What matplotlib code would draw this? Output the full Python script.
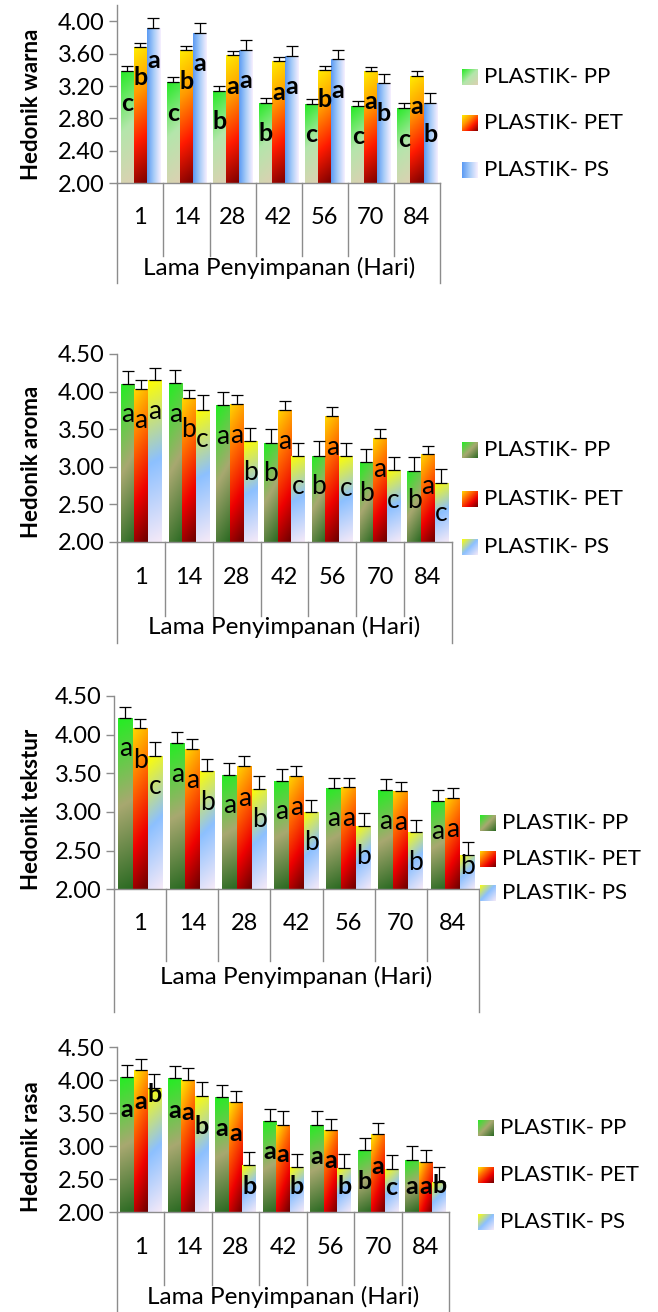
import numpy as np
import matplotlib.pyplot as plt
from matplotlib.colors import LinearSegmentedColormap

plt.rcParams['font.family'] = ['Lato', 'DejaVu Sans']

days = ['1', '14', '28', '42', '56', '70', '84']
series = ['PLASTIK- PP', 'PLASTIK- PET', 'PLASTIK- PS']

# Hedonik warna
warna_pp = [3.39, 3.25, 3.14, 2.99, 2.98, 2.95, 2.93]
warna_pet = [3.68, 3.65, 3.58, 3.51, 3.40, 3.39, 3.33]
warna_ps = [3.92, 3.86, 3.65, 3.57, 3.53, 3.24, 2.99]
warna_err_pp = [0.06, 0.06, 0.06, 0.06, 0.06, 0.06, 0.06]
warna_err_pet = [0.05, 0.05, 0.05, 0.05, 0.05, 0.05, 0.05]
warna_err_ps = [0.12, 0.12, 0.12, 0.12, 0.12, 0.11, 0.12]
warna_let_pp = ['c', 'c', 'b', 'b', 'c', 'c', 'c']
warna_let_pet = ['b', 'b', 'a', 'a', 'b', 'a', 'a']
warna_let_ps = ['a', 'a', 'a', 'a', 'a', 'b', 'b']
warna_lety_pp = [2.99, 2.86, 2.76, 2.61, 2.60, 2.58, 2.54]
warna_lety_pet = [3.30, 3.25, 3.19, 3.12, 3.03, 3.01, 2.95]
warna_lety_ps = [3.52, 3.48, 3.27, 3.19, 3.14, 2.86, 2.60]

# Hedonik aroma
aroma_pp = [4.10, 4.11, 3.82, 3.32, 3.15, 3.06, 2.94]
aroma_pet = [4.03, 3.91, 3.84, 3.76, 3.68, 3.38, 3.17]
aroma_ps = [4.15, 3.76, 3.34, 3.15, 3.14, 2.96, 2.79]
aroma_err_pp = [0.18, 0.18, 0.18, 0.18, 0.19, 0.18, 0.19]
aroma_err_pet = [0.12, 0.11, 0.11, 0.11, 0.11, 0.12, 0.11]
aroma_err_ps = [0.17, 0.19, 0.18, 0.17, 0.17, 0.17, 0.18]
aroma_let_pp = ['a', 'a', 'a', 'b', 'b', 'b', 'b']
aroma_let_pet = ['a', 'b', 'a', 'a', 'a', 'a', 'a']
aroma_let_ps = ['a', 'c', 'b', 'c', 'c', 'c', 'c']
aroma_lety_pp = [3.69, 3.69, 3.40, 2.91, 2.74, 2.65, 2.55]
aroma_lety_pet = [3.62, 3.50, 3.42, 3.33, 3.26, 2.97, 2.74]
aroma_lety_ps = [3.73, 3.36, 2.93, 2.74, 2.71, 2.55, 2.38]

# Hedonik tekstur
tekstur_pp = [4.21, 3.89, 3.48, 3.40, 3.31, 3.28, 3.14]
tekstur_pet = [4.08, 3.82, 3.60, 3.47, 3.32, 3.27, 3.18]
tekstur_ps = [3.72, 3.53, 3.30, 3.00, 2.82, 2.74, 2.44]
tekstur_err_pp = [0.15, 0.15, 0.15, 0.15, 0.13, 0.15, 0.14]
tekstur_err_pet = [0.12, 0.12, 0.12, 0.12, 0.12, 0.12, 0.13]
tekstur_err_ps = [0.18, 0.16, 0.16, 0.16, 0.17, 0.16, 0.17]
tekstur_let_pp = ['a', 'a', 'a', 'a', 'a', 'a', 'a']
tekstur_let_pet = ['b', 'a', 'a', 'a', 'a', 'a', 'a']
tekstur_let_ps = ['c', 'b', 'b', 'b', 'b', 'b', 'b']
tekstur_lety_pp = [3.82, 3.49, 3.09, 3.01, 2.91, 2.88, 2.75]
tekstur_lety_pet = [3.67, 3.41, 3.18, 3.06, 2.92, 2.87, 2.77]
tekstur_lety_ps = [3.33, 3.12, 2.90, 2.60, 2.43, 2.35, 2.30]

# Hedonik rasa
rasa_pp = [4.05, 4.03, 3.74, 3.38, 3.33, 2.94, 2.80]
rasa_pet = [4.15, 4.00, 3.67, 3.33, 3.25, 3.18, 2.76]
rasa_ps = [3.88, 3.76, 2.71, 2.68, 2.67, 2.66, 2.46]
rasa_err_pp = [0.18, 0.19, 0.19, 0.19, 0.20, 0.18, 0.20]
rasa_err_pet = [0.18, 0.18, 0.17, 0.20, 0.17, 0.18, 0.19]
rasa_err_ps = [0.22, 0.21, 0.21, 0.20, 0.21, 0.21, 0.23]
rasa_let_pp = ['a', 'a', 'a', 'a', 'a', 'b', 'a']
rasa_let_pet = ['a', 'a', 'a', 'a', 'a', 'a', 'a']
rasa_let_ps = ['b', 'b', 'b', 'b', 'b', 'c', 'b']
rasa_lety_pp = [3.56, 3.55, 3.27, 2.92, 2.85, 2.46, 2.39]
rasa_lety_pet = [3.68, 3.51, 3.20, 2.88, 2.78, 2.70, 2.39]
rasa_lety_ps = [3.79, 3.30, 2.39, 2.39, 2.39, 2.38, 2.40]

W, H = 658, 1312


def grad_cmap(colors):
    return LinearSegmentedColormap.from_list('g', colors)


def gradient(w_px, h_px, angle, n=120):
    # linear gradient across a w x h pixel box, angle 0 = left->right, 90 = top->bottom
    a = np.deg2rad(angle)
    u = np.linspace(0, 1, n)[None, :] * w_px
    v = np.linspace(0, 1, n)[:, None] * h_px
    t = (u * np.cos(a) + v * np.sin(a))
    return t / t.max()


def fill_gradient(ax, patch, cmap, angle, px_per_x, px_per_y):
    x0, y0 = patch.get_x(), patch.get_y()
    w, h = patch.get_width(), patch.get_height()
    g = gradient(w * px_per_x, h * px_per_y, angle)
    im = ax.imshow(g, cmap=cmap, extent=(x0, x0 + w, y0, y0 + h), origin='upper',
                   aspect='auto', interpolation='bilinear', vmin=0, vmax=1, zorder=2)
    im.set_clip_path(patch)


panels = [
    dict(label='Hedonik warna', vals=(warna_pp, warna_pet, warna_ps),
         errs=(warna_err_pp, warna_err_pet, warna_err_ps),
         lets=(warna_let_pp, warna_let_pet, warna_let_ps),
         lety=(warna_lety_pp, warna_lety_pet, warna_lety_ps),
         box=(117.3, 5, 440, 183.3), ymax=4.2, yticks=np.arange(2.0, 4.01, 0.4),
         bold=True, letsize=18,
         fills=[(['#22ea22', '#b4e6ab', '#ddd0b2'], 45),
                (['#ffee00', '#ff9a00', '#ff1a00', '#7a0000'], 45),
                (['#5a9af4', '#a9cdf8', '#f8f0ff'], 0)],
         leg_x=462, leg_y=(77, 123, 170), txt_y=(218, 268), box_bot=283, ylab=(32, 104)),
    dict(label='Hedonik aroma', vals=(aroma_pp, aroma_pet, aroma_ps),
         errs=(aroma_err_pp, aroma_err_pet, aroma_err_ps),
         lets=(aroma_let_pp, aroma_let_pet, aroma_let_ps),
         lety=(aroma_lety_pp, aroma_lety_pet, aroma_lety_ps),
         box=(117.3, 354, 451.7, 542), ymax=4.5, yticks=np.arange(2.0, 4.51, 0.5),
         bold=False, letsize=19,
         fills=[(['#22ee22', '#a8a870', '#2a6a22'], 30),
                (['#ffd800', '#ff6a00', '#ee0000', '#6a0000'], 30),
                (['#ffff00', '#8cc0ff', '#f6eaf8'], 60)],
         leg_x=462, leg_y=(450, 499, 547), txt_y=(577, 627), box_bot=643, ylab=(32, 462)),
    dict(label='Hedonik tekstur', vals=(tekstur_pp, tekstur_pet, tekstur_ps),
         errs=(tekstur_err_pp, tekstur_err_pet, tekstur_err_ps),
         lets=(tekstur_let_pp, tekstur_let_pet, tekstur_let_ps),
         lety=(tekstur_lety_pp, tekstur_lety_pet, tekstur_lety_ps),
         box=(114, 696, 479, 889.3), ymax=4.5, yticks=np.arange(2.0, 4.51, 0.5),
         bold=False, letsize=19,
         fills=[(['#22ee22', '#a8a870', '#2a6a22'], 60),
                (['#ffd800', '#ff6a00', '#ee0000', '#6a0000'], 30),
                (['#ffff00', '#8cc0ff', '#f6eaf8'], 45)],
         leg_x=480, leg_y=(823, 859, 893), txt_y=(923, 977), box_bot=1012, ylab=(32, 809)),
    dict(label='Hedonik rasa', vals=(rasa_pp, rasa_pet, rasa_ps),
         errs=(rasa_err_pp, rasa_err_pet, rasa_err_ps),
         lets=(rasa_let_pp, rasa_let_pet, rasa_let_ps),
         lety=(rasa_lety_pp, rasa_lety_pet, rasa_lety_ps),
         box=(117, 1047.3, 449.3, 1212.3), ymax=4.5, yticks=np.arange(2.0, 4.51, 0.5),
         bold=True, letsize=18,
         fills=[(['#22ee22', '#a8a870', '#2a6a22'], 60),
                (['#ffee00', '#ff6a00', '#ee0000', '#6a0000'], 20),
                (['#ffff00', '#8cc0ff', '#f6eaf8'], 45)],
         leg_x=478, leg_y=(1128, 1175, 1222), txt_y=(1247, 1297), box_bot=1312, ylab=(32, 1147)),
]

fig = plt.figure(figsize=(W / 100, H / 100), dpi=100)
axis_col = '#8c8c8c'
x = np.arange(len(days))
bw = 0.285
offs = [-bw, 0, bw]

for p in panels:
    l, t, r, b = p['box']
    ax = fig.add_axes([l / W, 1 - b / H, (r - l) / W, (b - t) / H])
    ax.set_xlim(-0.5, len(days) - 0.5)
    ax.set_ylim(2.0, p['ymax'])
    px_x = (r - l) / len(days)
    px_y = (b - t) / (p['ymax'] - 2.0)

    for k in range(3):
        vals = np.array(p['vals'][k])
        bars = ax.bar(x + offs[k], vals - 2.0, bw, bottom=2.0, facecolor='none',
                      edgecolor='none', zorder=2)
        cmap = grad_cmap(p['fills'][k][0])
        for patch in bars:
            fill_gradient(ax, patch, cmap, p['fills'][k][1], px_x, px_y)
        err = np.array(p['errs'][k])
        ax.errorbar(x + offs[k], vals, yerr=[np.zeros_like(err), err], fmt='none',
                    ecolor='black', elinewidth=0.9, capsize=4, capthick=0.9, zorder=3)
        for i, (s, yy) in enumerate(zip(p['lets'][k], p['lety'][k])):
            ax.text(x[i] + offs[k], yy, s, ha='center', va='center', fontsize=p['letsize'],
                    fontweight='bold' if p['bold'] else 'normal', color='black', zorder=4)

        # legend entry
        ly = p['leg_y'][k]
        lax = fig.add_axes([p['leg_x'] / W, 1 - (ly + 8) / H, 16 / W, 16 / H])
        lax.imshow(gradient(16, 16, 45 if p['fills'][k][1] else 0), cmap=cmap,
                   aspect='auto', extent=(0, 1, 0, 1), vmin=0, vmax=1, interpolation='bilinear')
        lax.set_axis_off()
        fig.text((p['leg_x'] + 22) / W, 1 - ly / H, series[k], fontsize=16,
                 ha='left', va='center')

    for side in ['top', 'right']:
        ax.spines[side].set_visible(False)
    for side in ['left', 'bottom']:
        ax.spines[side].set_color(axis_col)
        ax.spines[side].set_linewidth(1.0)
    ax.set_yticks(p['yticks'])
    ax.set_yticklabels(['%.2f' % v for v in p['yticks']], fontsize=17)
    ax.tick_params(axis='y', length=6, color=axis_col, width=1.0, pad=3)
    ax.set_xticks([])

    # category axis: dividers, labels and outer frame
    tr = ax.get_xaxis_transform()
    ax_h = b - t
    d1 = (p['txt_y'][0] - b) * 2 / ax_h
    d2 = (p['box_bot'] - b) / ax_h
    for j in range(1, len(days)):
        ax.plot([j - 0.5, j - 0.5], [0, -d1 - 0.02], transform=tr, color=axis_col,
                lw=1.0, clip_on=False)
    for xe in (-0.5, len(days) - 0.5):
        ax.plot([xe, xe], [0, -d2], transform=tr, color=axis_col, lw=1.0, clip_on=False)
    for i, dlab in enumerate(days):
        ax.text(i, -(p['txt_y'][0] - b) / ax_h, dlab, transform=tr, ha='center',
                va='center', fontsize=17)
    ax.text((len(days) - 1) / 2, -(p['txt_y'][1] - b) / ax_h, 'Lama Penyimpanan (Hari)',
            transform=tr, ha='center', va='center', fontsize=17.5)

    fig.text(p['ylab'][0] / W, 1 - p['ylab'][1] / H, p['label'], rotation=90,
             ha='center', va='center', fontsize=16, fontweight='bold')

fig.savefig('out.png', dpi=100)
